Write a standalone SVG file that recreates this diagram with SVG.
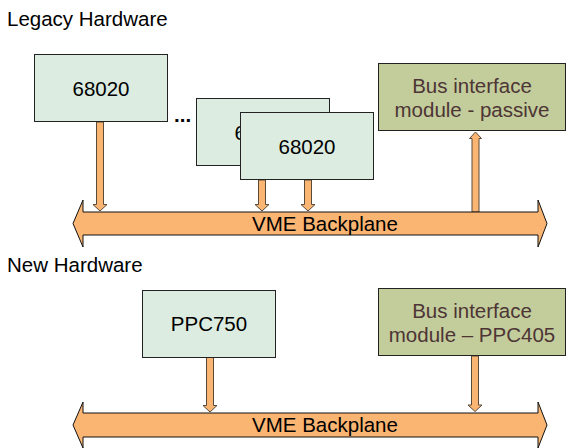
<svg xmlns="http://www.w3.org/2000/svg" width="566" height="448" viewBox="0 0 566 448">
<style>
text{font-family:"Liberation Sans",Arial,sans-serif;font-size:20.5px;fill:#000}
.cpu{fill:#dcece1;stroke:#222;stroke-width:1}
.bim{fill:#c3cc9b;stroke:#222;stroke-width:1}
.bimt{fill:#4d3535;text-anchor:middle}
.ct{text-anchor:middle}
.bus{fill:#fab572;stroke:#111;stroke-width:1}
.arr{fill:#fab572;stroke:#5a4a3a;stroke-width:1}
</style>
<rect width="566" height="448" fill="#fff"/>
<text x="7" y="26">Legacy Hardware</text>
<text x="7" y="272">New Hardware</text>

<g id="connectors">
<path class="arr" d="M96.5,122 H103.5 V204.5 H107 L100,211 L93,204.5 H96.5 Z"/>
<path class="arr" d="M258.5,180 H265.5 V204.5 H269 L262,211 L255,204.5 H258.5 Z"/>
<path class="arr" d="M304.5,180 H311.5 V204.5 H315 L308,211 L301,204.5 H304.5 Z"/>
<path class="arr" d="M472,212 V138.5 H469.5 L475.5,132 L481.5,138.5 H479 V212 Z"/>
<path class="arr" d="M206.5,357 H213.5 V405.5 H217 L210,412 L203,405.5 H206.5 Z"/>
<path class="arr" d="M471.5,356 H478.5 V405 H482 L475,411.5 L468,405 H471.5 Z"/>
</g>

<g id="backplane1">
<path class="bus" d="M73,223.5 L83,200 V212 H538 V200 L547,223.5 L538,247 V235 H83 V247 Z"/>
<text class="ct" x="325" y="230.5">VME Backplane</text>
</g>
<g id="backplane2">
<path class="bus" d="M73,425 L83,402 V413 H538 V402 L547,425 L538,448 V437 H83 V448 Z"/>
<text class="ct" x="325" y="432">VME Backplane</text>
</g>

<g id="cpu1">
<rect class="cpu" x="34.5" y="54.5" width="133" height="67"/>
<text class="ct" x="101" y="96">68020</text>
</g>
<g id="dots">
<text x="174" y="122" style="font-weight:bold">...</text>
</g>
<g id="cpu2">
<rect class="cpu" x="196.5" y="98.5" width="133" height="67"/>
<text class="ct" x="263" y="140">68020</text>
</g>
<g id="cpu3">
<rect class="cpu" x="240.5" y="112.5" width="133" height="67"/>
<text class="ct" x="307" y="154">68020</text>
</g>
<g id="bim1">
<rect class="bim" x="378.5" y="63.5" width="187" height="67"/>
<text class="bimt" x="472" y="93">Bus interface</text>
<text class="bimt" x="472" y="116.5">module - passive</text>
</g>

<g id="ppc750">
<rect class="cpu" x="142.5" y="290.5" width="133" height="67"/>
<text class="ct" x="209" y="331">PPC750</text>
</g>
<g id="bim2">
<rect class="bim" x="378.5" y="288.5" width="187" height="67"/>
<text class="bimt" x="472" y="318">Bus interface</text>
<text class="bimt" x="472" y="341.5">module – PPC405</text>
</g>
</svg>
